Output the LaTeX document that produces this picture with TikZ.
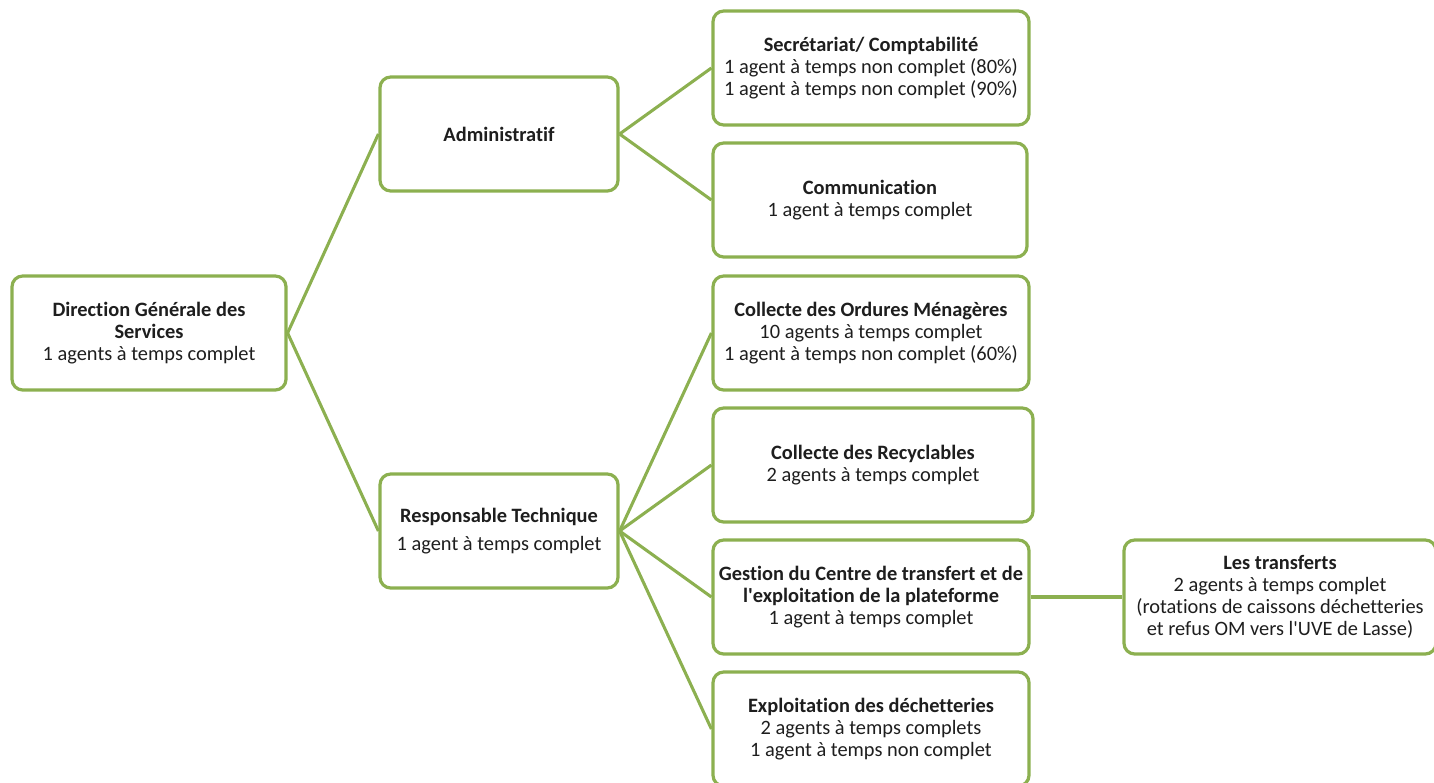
\documentclass[tikz,border=0pt]{standalone}
\usepackage{fontspec}
\setmainfont{Carlito}[Ligatures={NoCommon}]
\usepackage{tikz}

\definecolor{olive}{RGB}{140,176,80}
\definecolor{ink}{RGB}{30,30,30}

\tikzset{
    box/.style={draw=olive, line width=2.4pt, rounded corners=8pt, fill=white,
        align=center, inner sep=2pt, minimum height=85.5pt, text=ink,
        font=\fontsize{15.3}{16.6}\selectfont},
    link/.style={draw=olive, line width=2.3pt}
}

\begin{document}
\begin{tikzpicture}[x=0.75pt, y=-0.75pt]
    \clip (0,0) rectangle (1434,782);
    \useasboundingbox (0,0) rectangle (1434,782);

    % Level 1
    \node[box, minimum width=205.5pt] (dgs) at (149,333)
        {\textbf{Direction Générale des}\\\textbf{Services}\\1 agents à temps complet};

    % Level 2
    \node[box, minimum width=178.5pt] (admin) at (499,134) {\textbf{Administratif}};
    \node[box, minimum width=178.5pt] (tech) at (499,531)
        {\textbf{Responsable Technique}\\[5pt]1 agent à temps complet};

    % Level 3 (administratif)
    \node[box, minimum width=237pt] (secr) at (871,68)
        {\textbf{Secrétariat/ Comptabilité}\\1 agent à temps non complet (80\%)\\1 agent à temps non complet (90\%)};
    \node[box, minimum width=235.5pt] (comm) at (870,200)
        {\textbf{Communication}\\1 agent à temps complet};

    % Level 3 (technique)
    \node[box, minimum width=237pt] (om) at (871,333)
        {\textbf{Collecte des Ordures Ménagères}\\10 agents à temps complet\\1 agent à temps non complet (60\%)};
    \node[box, minimum width=240pt] (recy) at (873,465)
        {\textbf{Collecte des Recyclables}\\2 agents à temps complet};
    \node[box, minimum width=237pt] (gest) at (871,597)
        {\textbf{Gestion du Centre de transfert et de}\\\textbf{l\textquotesingle exploitation de la plateforme}\\1 agent à temps complet};
    \node[box, minimum width=237pt] (dech) at (871,729)
        {\textbf{Exploitation des déchetteries}\\2 agents à temps complets\\1 agent à temps non complet};

    % Level 4
    \node[box, minimum width=234pt] (transf) at (1280,597)
        {\textbf{Les transferts}\\2 agents à temps complet\\(rotations de caissons déchetteries\\et refus OM vers l\textquotesingle UVE de Lasse)};

    % Connectors
    \draw[link] (dgs.east) -- (admin.west);
    \draw[link] (dgs.east) -- (tech.west);
    \draw[link] (admin.east) -- (secr.west);
    \draw[link] (admin.east) -- (comm.west);
    \foreach \n in {om,recy,gest,dech}
        \draw[link] (tech.east) -- (\n.west);
    \draw[link] (gest.east) -- (transf.west);
\end{tikzpicture}
\end{document}
